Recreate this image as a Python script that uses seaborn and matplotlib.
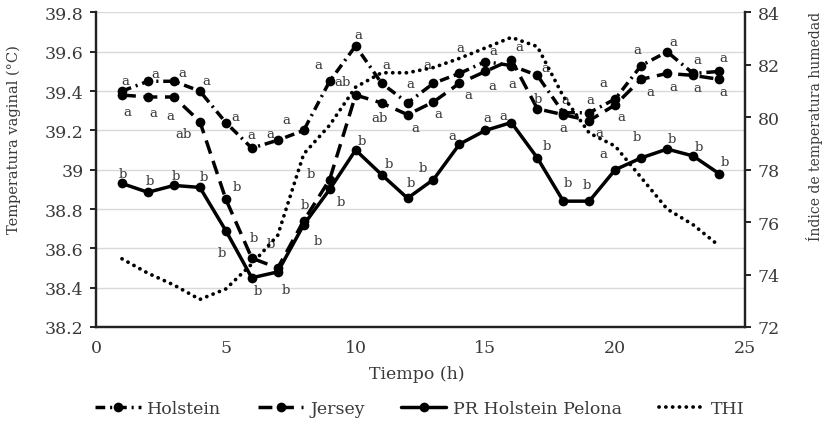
import matplotlib
matplotlib.use('Agg')
import pandas as pd
import matplotlib.pyplot as plt
import seaborn as sns

# Datos
horas = list(range(1, 25))
holstein = [39.40, 39.45, 39.45, 39.40, 39.24, 39.11, 39.15, 39.20, 39.45, 39.63, 39.44, 39.34,
            39.44, 39.49, 39.55, 39.53, 39.48, 39.29, 39.29, 39.36, 39.53, 39.60, 39.49, 39.50]
jersey = [39.38, 39.37, 39.37, 39.245, 38.85, 38.55, 38.50, 38.74, 38.95, 39.38, 39.34, 39.28,
          39.345, 39.44, 39.50, 39.56, 39.31, 39.28, 39.25, 39.33, 39.46, 39.49, 39.48, 39.46]
pelona = [38.93, 38.885, 38.92, 38.91, 38.69, 38.45, 38.48, 38.72, 38.90, 39.10, 38.975, 38.855,
          38.95, 39.13, 39.20, 39.24, 39.06, 38.84, 38.84, 39.00, 39.06, 39.105, 39.07, 38.98]
thi = [74.6, 74.05, 73.6, 73.05, 73.45, 74.4, 75.5, 78.6, 79.7, 81.15, 81.7, 81.7,
       81.9, 82.25, 82.65, 83.05, 82.7, 80.8, 79.4, 78.9, 77.7, 76.5, 75.9, 75.1]

letras_holstein = ['a'] * 24
letras_jersey = ['a', 'a', 'a', 'ab', 'b', 'b', 'b', 'b', 'b', 'ab', 'ab', 'a',
                 'a', 'a', 'a', 'a', 'b', 'a', 'a', 'a', 'a', 'a', 'a', 'a']
letras_pelona = ['b', 'b', 'b', 'b', 'b', 'b', 'b', 'b', 'b', 'b', 'b', 'b',
                 'b', 'a', 'a', 'a', 'b', 'b', 'b', 'a', 'b', 'b', 'b', 'b']

razas = ['Holstein', 'Jersey', 'PR Holstein Pelona']

# desplazamiento de cada letra respecto a su punto (pixeles, y hacia abajo)
off_holstein = [(3, -12), (7, -9), (8, -10), (7, -12), (10, -8), (0, -15), (-7, -8), (-17, -12),
                (-11, -18), (3, -13), (5, -20), (3, -21), (-6, -20), (1, -27), (8, -13), (1, 16),
                (8, -9), (2, -15), (1, -15), (-12, -18), (-4, -18), (6, -12), (4, -15), (4, -15)]
off_jersey = [(5, 15), (5, 14), (-4, 17), (-16, 10), (11, -14), (2, -22), (-7, -26), (1, -18),
              (-19, -8), (-13, -15), (-2, 13), (8, 11), (5, 10), (9, 10), (7, 13), (8, -15),
              (0, -12), (0, 11), (10, 10), (6, 10), (9, 11), (6, 12), (4, 11), (4, 11)]
off_pelona = [(1, -11), (2, -13), (2, -11), (4, -12), (-4, 20), (6, 11), (8, 16), (14, 14),
              (11, 11), (6, -11), (7, -13), (3, -17), (-11, -14), (-7, -10), (2, -14), (-8, -9),
              (9, -14), (5, -20), (-2, -18), (-12, -18), (-4, -23), (5, -12), (6, -11), (6, -14)]

df = pd.DataFrame({
    'Tiempo': horas * 3,
    'Temp': holstein + jersey + pelona,
    'Raza': [r for r in razas for _ in horas],
})

sns.set_style('white')
plt.rcParams['font.family'] = ['DejaVu Serif']
plt.rcParams['lines.scale_dashes'] = False
gris = '#3a3a3a'

fig = plt.figure(figsize=(8.3, 4.27), dpi=100)
ax = fig.add_axes([0.1157, 0.232, 0.7819, 0.7364])
ax2 = ax.twinx()

sns.lineplot(data=df, x='Tiempo', y='Temp', style='Raza', style_order=razas,
             dashes={'Holstein': (7, 3.5, 1.5, 3.5), 'Jersey': (10, 5.5), 'PR Holstein Pelona': ''},
             markers={'Holstein': 'o', 'Jersey': 'o', 'PR Holstein Pelona': 'o'},
             color='black', linewidth=2.5, markersize=7, markeredgewidth=0,
             legend=False, ax=ax)

sns.lineplot(x=horas, y=thi, color='black', linewidth=2.7, linestyle=(0, (0.1, 4.8)),
             dash_capstyle='round', legend=False, ax=ax2)

for serie, letras, offs in [(holstein, letras_holstein, off_holstein),
                            (jersey, letras_jersey, off_jersey),
                            (pelona, letras_pelona, off_pelona)]:
    for h, v, t, (dx, dy) in zip(horas, serie, letras, offs):
        ax.annotate(t, (h, v), xytext=(dx, -dy), textcoords='offset pixels',
                    ha='center', va='center_baseline', fontsize=9.5, color=gris)

ax.set_xlim(0, 25)
ax.set_ylim(38.2, 39.8)
ax2.set_ylim(72, 84)
ax.set_xticks(range(0, 26, 5))
ax.set_yticks([38.2 + 0.2 * i for i in range(9)])
ax.set_yticklabels([f'{38.2 + 0.2 * i:g}' for i in range(9)])
ax2.set_yticks(range(72, 85, 2))

ax.grid(axis='y', color='#d9d9d9', linewidth=1)
ax.set_axisbelow(True)
for a in (ax, ax2):
    a.spines['top'].set_visible(False)
    for s in ('left', 'right', 'bottom'):
        a.spines[s].set_color('#222222')
        a.spines[s].set_linewidth(1.6)
    a.tick_params(direction='out', length=4, width=1.4, color='#222222',
                  labelsize=12.5, labelcolor=gris, pad=5)

ax.set_xlabel('Tiempo (h)', fontsize=12.5, color=gris)
ax.set_ylabel('Temperatura vaginal (°C)', fontsize=10.5, color=gris)
ax2.set_ylabel('Índice de temperatura humedad', fontsize=10, color=gris)
ax.xaxis.set_label_coords(0.495, -0.12)
ax.yaxis.set_label_coords(-0.116, 0.598)
ax2.yaxis.set_label_coords(1.094, 0.64)

handles = ax.get_lines()[:3] + ax2.get_lines()[:1]
fig.legend(handles, razas + ['THI'], loc='center', bbox_to_anchor=(0.506, 0.04), ncol=4,
           frameon=False, fontsize=12.5, handlelength=2.6, handletextpad=0.4,
           columnspacing=2.1, labelcolor=gris)

fig.savefig('out.png', dpi=100)
